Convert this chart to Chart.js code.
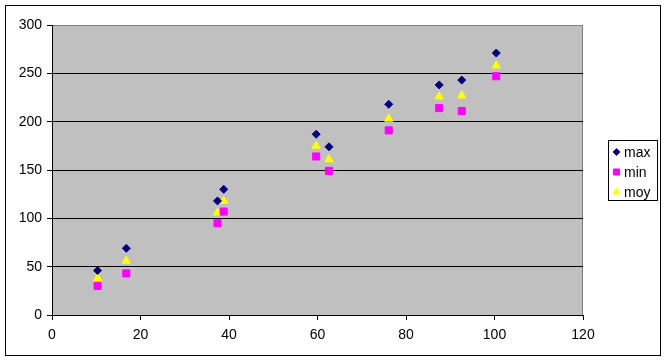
<!DOCTYPE html>
<html>
<head>
<meta charset="utf-8">
<script src="https://cdn.jsdelivr.net/npm/chart.js@4/dist/chart.umd.min.js"></script>
<style>
html,body{margin:0;padding:0;background:#fff;}
#wrap{width:666px;height:362px;position:relative;}
</style>
</head>
<body>
<div id="wrap"><canvas id="c" width="666" height="362"></canvas></div>
<script>
const xValues   = [10.3, 16.8, 37.4, 38.8, 59.7, 62.6, 76.1, 87.5, 92.6, 100.4];
const maxValues = [46, 69, 118, 130, 187, 174, 218, 238, 243, 271];
const minValues = [30, 43, 95, 107, 164, 149, 191, 214, 211, 247];
const moyValues = [38, 56, 106, 118, 175, 161, 203, 226, 227, 258];
const seriesNames = ['max', 'min', 'moy'];
const xTicks = [0, 20, 40, 60, 80, 100, 120];
const yTicks = [0, 50, 100, 150, 200, 250, 300];

const FONT = "Arial, 'Liberation Sans', sans-serif";
const toPts = ys => xValues.map((x, i) => ({x: x, y: ys[i]}));

const styles = [
  {color: '#000080', pointStyle: 'rectRot', radius: 4},
  {color: '#FF00FF', pointStyle: 'rect', radius: 5},
  {color: '#FFFF00', pointStyle: 'triangle', radius: 4.8}
];
const seriesData = [maxValues, minValues, moyValues];

const bgPlugin = {
  id: 'bg',
  beforeDraw(chart) {
    const {ctx, chartArea: a} = chart;
    ctx.save();
    ctx.fillStyle = '#fff';
    ctx.fillRect(0, 0, chart.width, chart.height);
    ctx.fillStyle = '#C0C0C0';
    ctx.fillRect(a.left, a.top, a.right - a.left, a.bottom - a.top);
    ctx.strokeStyle = '#808080';
    ctx.lineWidth = 1;
    ctx.beginPath();
    ctx.moveTo(a.left, a.top + 0.5);
    ctx.lineTo(a.right - 0.5, a.top + 0.5);
    ctx.lineTo(a.right - 0.5, a.bottom);
    ctx.stroke();
    ctx.strokeStyle = '#000';
    ctx.strokeRect(5.5, 5.5, 655, 350);
    ctx.restore();
  },
  afterDraw(chart) {
    const ctx = chart.ctx;
    ctx.save();
    ctx.strokeStyle = '#000';
    ctx.lineWidth = 1;
    ctx.strokeRect(608.5, 140.5, 49, 60);
    ctx.font = '14px ' + FONT;
    ctx.textBaseline = 'middle';
    ctx.textAlign = 'left';
    chart.data.datasets.forEach((ds, i) => {
      const y = 152 + i * 20;
      ctx.fillStyle = ds.backgroundColor;
      ctx.strokeStyle = ds.borderColor;
      ctx.lineWidth = 1;
      Chart.helpers.drawPoint(ctx, {
        pointStyle: ds.pointStyle, radius: ds.pointRadius * 0.85, borderWidth: 1, rotation: 0
      }, 616.5, y);
      ctx.fillStyle = '#000';
      ctx.fillText(ds.label, 624, y + 1);
    });
    ctx.restore();
  }
};

new Chart(document.getElementById('c'), {
  type: 'scatter',
  data: {
    datasets: seriesNames.map((n, i) => ({
      label: n,
      data: toPts(seriesData[i]),
      pointStyle: styles[i].pointStyle,
      pointRadius: styles[i].radius,
      pointHoverRadius: styles[i].radius,
      backgroundColor: styles[i].color,
      borderColor: styles[i].color,
      pointBorderWidth: 1,
      showLine: false
    }))
  },
  options: {
    responsive: false,
    animation: false,
    devicePixelRatio: 1,
    layout: {padding: {left: 0, top: 25, right: 83, bottom: 0}},
    plugins: {legend: {display: false}, tooltip: {enabled: false}},
    scales: {
      x: {
        type: 'linear', min: 0, max: 120,
        afterBuildTicks: s => { s.ticks = xTicks.map(v => ({value: v})); },
        afterFit: s => { s.height = 47; },
        border: {color: '#000', width: 1},
        grid: {drawOnChartArea: false, drawTicks: true, tickLength: 5, tickColor: '#000'},
        ticks: {color: '#000', font: {family: FONT, size: 14}, padding: 7, maxRotation: 0}
      },
      y: {
        type: 'linear', min: 0, max: 300,
        afterBuildTicks: s => { s.ticks = yTicks.map(v => ({value: v})); },
        afterFit: s => { s.width = 52; },
        border: {color: '#000', width: 1},
        grid: {
          color: c => (c.tick && c.tick.value === 300) ? '#808080' : '#000',
          tickColor: '#000', tickLength: 5, drawTicks: true
        },
        ticks: {color: '#000', font: {family: FONT, size: 14}, padding: 5}
      }
    }
  },
  plugins: [bgPlugin]
});
</script>
</body>
</html>
